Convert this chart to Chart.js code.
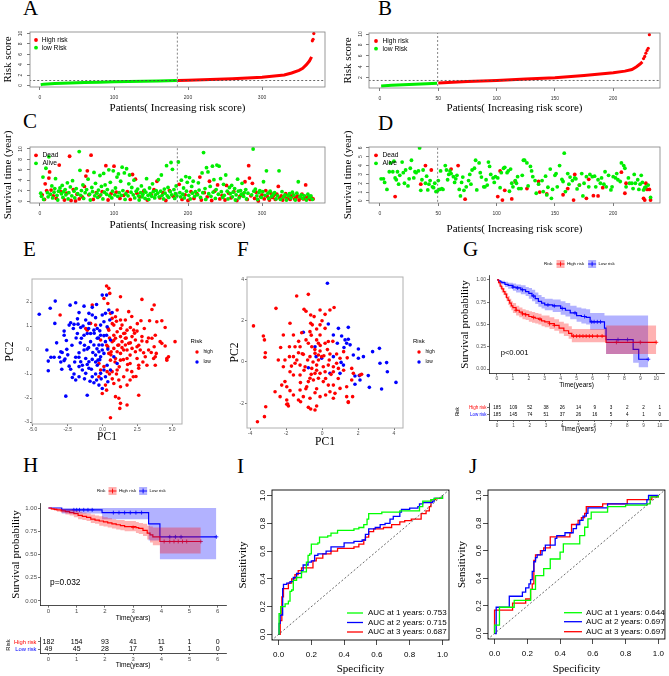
<!DOCTYPE html>
<html><head><meta charset="utf-8">
<script src="https://cdn.jsdelivr.net/npm/chart.js@4.4.1/dist/chart.umd.min.js"></script>
<style>
html,body{margin:0;padding:0;background:#fff}
body{width:669px;height:676px;position:relative;overflow:hidden}
.lt{position:absolute;font-family:'Liberation Serif','Times New Roman',serif;font-size:21px;line-height:1;color:#000}
.pw{position:absolute}
</style></head><body>
<div class="lt" style="left:23px;top:-2px">A</div>
<div class="lt" style="left:378px;top:-2px">B</div>
<div class="lt" style="left:23px;top:111px">C</div>
<div class="lt" style="left:378px;top:113px">D</div>
<div class="lt" style="left:23px;top:239px">E</div>
<div class="lt" style="left:237px;top:239px">F</div>
<div class="lt" style="left:463px;top:239px">G</div>
<div class="lt" style="left:23px;top:455px">H</div>
<div class="lt" style="left:237px;top:456px">I</div>
<div class="lt" style="left:469px;top:456px">J</div>
<script>
const SANS="'Liberation Sans', Arial, Helvetica, sans-serif";
const SERIF="'Liberation Serif', 'Times New Roman', serif";
const RED='#ff0000', GREEN='#00ee00', BLUE='#0000ff';

// ---------- A: risk score (training) ----------
const aLowX=[1,5,10,20,40,60,80,100,120,140,160,185];
const aLowY=[0.15,0.25,0.3,0.38,0.48,0.56,0.63,0.7,0.76,0.82,0.87,0.94];
const aHighX=[186,200,220,240,260,280,300,320,330,340,350,355,360,364,367];
const aHighY=[0.95,1.0,1.08,1.18,1.3,1.42,1.58,1.85,2.0,2.4,2.9,3.3,4.0,4.7,5.5];
const aTopX=[368,369,370];
const aTopY=[8.6,8.9,10.0];
const aCut=185.5, aThr=0.95;
const aXTicks=[0,100,200,300], aYTicks=[0,2,4,6,8,10];

// ---------- B: risk score (test) ----------
const bLowX=[1,10,20,30,40,49];
const bLowY=[0.48,0.6,0.7,0.8,0.9,0.97];
const bHighX=[50,75,100,125,150,175,200,210,216,220,223,225];
const bHighY=[1.0,1.3,1.5,1.75,2.0,2.4,2.9,3.2,3.5,4.0,4.5,4.9];
const bTopX=[226,227,228,229,230,231];
const bTopY=[5.5,5.9,6.5,7.0,7.4,9.9];
const bCut=49.5, bThr=1.5;
const bXTicks=[0,50,100,150,200], bYTicks=[2,4,6,8,10];

// ---------- C: survival status (training) ----------
const cDead=[[3,1.2],[6,0.3],[9,2.0],[12,4.4],[13,5.6],[7,3.3],[15,2.1],[18,1.0],[22,0.5],[26,6.9],[28,1.8],[33,0.2],[36,1.5],[40,8.6],[42,0.1],[45,2.2],[48,0.0],[50,1.3],[53,0.4],[57,0.8],[60,2.8],[62,4.8],[64,5.8],[66,1.2],[69,8.8],[72,0.3],[76,1.6],[80,0.9],[84,1.8],[89,6.8],[92,0.2],[96,1.4],[100,6.7],[103,1.7],[108,0.5],[113,1.1],[118,1.8],[122,0.3],[125,5.1],[129,4.2],[131,1.5],[135,0.8],[140,1.9],[145,0.2],[150,1.3],[154,2.2],[158,3.8],[162,0.6],[166,1.6],[170,0.1],[175,2.0],[180,0.9],[188,3.2],[192,0.3],[196,1.2],[200,0.1],[204,1.8],[208,0.5],[212,1.4],[216,4.6],[218,0.2],[222,1.6],[226,0.8],[229,3.8],[232,0.1],[236,1.9],[240,3.1],[243,0.4],[246,1.1],[250,0.2],[252,3.0],[255,1.5],[258,0.6],[262,1.8],[266,0.1],[270,0.9],[274,1.3],[277,3.7],[280,0.3],[282,6.8],[283,4.4],[285,1.0],[287,3.4],[290,0.5],[292,1.7],[295,0.0],[298,0.8],[300,1.2],[303,0.4],[305,2.0],[307,0.9],[310,0.2],[312,1.5],[314,0.7],[316,1.1],[318,0.3],[320,1.3],[322,2.8],[324,0.6],[326,1.0],[328,0.2],[330,0.8],[332,1.4],[334,0.5],[336,1.1],[338,0.3],[340,0.9],[342,1.2],[344,0.4],[346,0.7],[348,1.0],[350,0.2],[352,0.6],[354,1.3],[356,0.4],[358,0.9],[359,3.1],[361,0.5],[363,0.8],[365,0.3],[367,0.6],[369,0.4]];
const cAlive=[[1,1.5],[2,0.9],[4,4.6],[5,0.3],[8,6.3],[10,1.6],[11,0.8],[12,8.5],[14,1.3],[16,2.9],[17,0.6],[19,1.7],[20,2.4],[21,4.3],[23,1.1],[24,0.2],[25,1.9],[27,2.5],[29,1.4],[30,3.0],[31,0.7],[32,1.8],[34,2.2],[35,1.2],[37,3.5],[38,0.4],[39,1.6],[41,2.7],[43,1.0],[44,3.9],[46,1.9],[47,0.6],[49,2.4],[51,1.4],[53,9.5],[54,5.9],[55,1.1],[56,2.0],[58,3.1],[59,0.5],[61,1.6],[63,2.2],[65,4.2],[67,1.3],[68,0.2],[70,2.6],[71,1.8],[73,5.5],[74,1.0],[75,3.4],[77,1.5],[78,0.7],[79,2.1],[81,4.9],[82,1.2],[83,2.8],[85,0.4],[86,5.3],[87,1.7],[88,3.1],[90,1.3],[91,2.2],[93,6.0],[94,1.0],[95,3.6],[97,0.6],[98,1.9],[99,5.8],[101,1.2],[102,2.5],[104,4.6],[105,0.9],[106,5.2],[107,1.6],[109,3.8],[110,1.1],[111,6.5],[112,2.0],[114,5.4],[115,0.3],[116,1.4],[117,6.2],[119,1.0],[120,3.3],[121,5.0],[123,1.7],[124,2.6],[126,1.2],[127,4.0],[128,0.6],[130,1.9],[132,2.3],[133,1.0],[134,0.2],[136,1.6],[137,2.9],[138,0.8],[139,1.3],[141,2.1],[142,0.5],[143,1.7],[144,4.3],[146,1.1],[147,0.3],[148,2.5],[149,1.4],[151,0.9],[152,3.3],[153,1.8],[155,0.6],[156,1.2],[157,2.0],[159,1.5],[160,4.1],[161,0.8],[163,1.9],[164,5.0],[165,1.1],[167,0.4],[168,2.3],[169,1.5],[171,6.8],[172,1.0],[173,2.6],[174,0.7],[176,1.8],[177,7.4],[178,1.2],[179,6.1],[181,2.2],[182,0.5],[183,1.4],[184,2.9],[185,1.0],[187,7.5],[189,1.6],[190,0.8],[191,4.0],[193,1.3],[194,2.5],[195,0.6],[197,4.7],[198,1.9],[199,3.6],[201,1.1],[202,4.5],[203,0.4],[205,2.8],[206,1.5],[207,3.8],[209,0.9],[210,1.8],[213,1.2],[214,3.5],[215,2.1],[217,0.7],[219,5.4],[220,1.6],[221,9.3],[223,2.4],[224,0.3],[225,6.4],[227,5.6],[228,1.4],[230,2.8],[231,0.9],[233,6.7],[234,1.7],[235,4.1],[237,0.5],[238,2.2],[239,6.9],[241,1.3],[242,6.7],[244,4.3],[245,1.8],[247,0.7],[248,3.2],[249,1.1],[251,5.0],[253,1.9],[254,0.4],[256,2.6],[257,1.4],[259,3.0],[260,0.8],[261,1.7],[263,2.4],[264,0.2],[265,1.2],[267,4.2],[268,1.9],[269,0.6],[271,2.0],[272,1.3],[273,3.4],[275,0.9],[276,1.6],[278,2.2],[279,0.4],[281,1.5],[286,1.2],[288,10.0],[289,1.9],[291,2.3],[293,1.0],[294,0.3],[296,1.6],[297,2.0],[299,0.7],[301,1.8],[302,3.7],[304,1.1],[306,5.8],[308,1.5],[309,0.5],[311,1.9],[313,0.9],[315,1.3],[317,1.6],[319,0.4],[321,1.0],[323,5.8],[325,0.3],[327,1.8],[329,0.8],[331,1.2],[333,0.2],[335,1.0],[337,1.4],[339,0.6],[341,1.7],[343,1.1],[345,0.2],[347,1.5],[349,3.7],[351,0.8],[353,1.2],[355,0.5],[357,1.0],[360,0.2],[362,1.3],[364,0.7],[366,1.0],[368,0.3]];
const cYTicks=[0,2,4,6,8,10];

// ---------- D: survival status (test) ----------
const dDead=[[13,0.5],[35,1.9],[39,4.0],[44,3.5],[61,3.6],[67,4.0],[73,0.2],[101,0.5],[103,3.4],[105,0.1],[107,1.2],[113,0.23],[116,2.2],[126,1.4],[136,2.2],[137,1.0],[143,0.8],[157,0.7],[161,1.4],[166,0.1],[167,3.0],[171,1.8],[177,0.3],[179,2.45],[183,0.6],[187,0.57],[191,1.5],[207,3.25],[210,0.87],[211,2.0],[226,0.3],[227,0.1],[228,2.0],[229,1.3],[231,1.3],[232,0.1]];
const dAlive=[[1,2.5],[3,2.5],[4,2.1],[6,1.3],[8,3.3],[9,4.3],[11,3.3],[12,4.5],[13,2.6],[14,2.4],[15,3.3],[16,1.9],[17,2.9],[19,4.4],[20,3.2],[21,2.0],[22,3.5],[24,1.7],[25,2.5],[26,3.7],[27,4.6],[29,2.6],[30,3.3],[31,3.2],[33,3.4],[34,6.0],[35,1.2],[36,2.4],[37,3.5],[39,2.0],[40,2.8],[41,1.25],[42,1.9],[43,2.3],[45,1.6],[46,1.5],[47,2.0],[48,1.06],[49,1.1],[50,2.3],[51,1.3],[52,3.4],[53,1.4],[54,1.3],[56,4.0],[57,3.5],[58,2.4],[59,3.0],[60,3.4],[61,3.1],[63,2.75],[64,2.1],[65,2.5],[66,2.9],[68,1.3],[69,0.57],[70,2.1],[71,2.7],[72,1.2],[74,1.6],[76,2.3],[77,3.0],[78,1.9],[79,3.5],[81,3.7],[82,4.6],[83,1.25],[85,4.3],[86,3.2],[87,2.7],[89,1.6],[90,1.6],[91,2.4],[92,1.8],[93,4.4],[94,3.9],[95,3.0],[97,2.6],[98,2.1],[99,2.75],[101,2.6],[103,1.5],[104,3.2],[106,3.7],[107,3.8],[109,3.2],[110,3.4],[111,1.1],[112,3.6],[113,2.0],[114,1.6],[116,2.3],[117,2.0],[118,2.75],[119,1.4],[121,1.4],[122,2.9],[123,4.6],[124,4.6],[126,4.3],[127,1.7],[129,3.9],[130,3.4],[131,2.75],[133,2.3],[134,0.87],[136,1.9],[139,2.3],[140,1.06],[142,2.8],[143,0.68],[144,1.55],[146,3.6],[147,0.3],[148,1.3],[150,2.9],[151,3.1],[152,1.6],[154,4.0],[156,2.45],[157,2.2],[158,5.4],[159,1.06],[161,3.1],[162,1.9],[163,2.7],[165,2.3],[167,2.6],[168,2.5],[169,1.36],[171,1.8],[173,3.1],[174,0.57],[175,2.0],[177,2.75],[179,1.6],[180,3.0],[182,2.75],[184,2.8],[185,1.6],[187,2.4],[189,2.0],[190,2.6],[192,1.9],[193,3.3],[194,1.6],[196,2.9],[198,1.25],[199,1.6],[200,2.75],[202,2.6],[203,3.1],[204,2.4],[206,2.2],[207,4.3],[209,4.0],[210,3.7],[211,1.6],[213,2.6],[214,2.0],[216,2.0],[217,1.4],[218,3.0],[219,2.0],[221,2.4],[222,1.3],[223,1.9],[224,2.9],[225,2.1],[226,1.25],[227,1.5],[228,1.6],[230,1.8],[232,0.4]];
const dYTicks=[0,1,2,3,4,5,6];

// ---------- E: PCA (training) ----------
const eHigh=[[0.29,2.67],[0.45,2.57],[0.52,2.36],[0.1,2.15],[1.29,2.22],[0.38,1.94],[-0.74,1.88],[-3.05,1.46],[0.57,1.53],[1.29,1.25],[1.88,1.6],[2.83,2.11],[3.55,1.69],[3.71,1.88],[3.38,1.22],[3.9,1.18],[4.26,1.22],[4.5,0.94],[5.21,0.35],[4.14,0.35],[3.79,-0.28],[3.67,-0.35],[3.86,-0.14],[3.79,-0.63],[3.19,0.35],[2.83,0.56],[2.83,0.38],[2.76,1.22],[2.48,0.79],[2.36,0.42],[2.24,0.83],[2.12,0.56],[1.76,0.83],[1.52,0.69],[1.29,0.56],[1.05,0.76],[0.93,0.49],[0.81,0.62],[0.69,0.35],[1.17,0.21],[1.4,0.35],[1.64,0.21],[1.88,0.28],[2.12,0.07],[2.36,-0.07],[2.48,-0.35],[2.6,-0.63],[2.6,-0.76],[3.19,-0.63],[1.52,0],[1.29,-0.14],[1.05,-0.07],[0.81,0.07],[0.45,-0.14],[0.57,-0.42],[0.93,-0.35],[1.29,-0.42],[1.76,-0.35],[1.98,-0.56],[1.76,-0.83],[1.52,-1.11],[1.17,-1.25],[0.81,-1.39],[1.29,-1.53],[1.76,-1.46],[1.98,-1.25],[2.21,-1.11],[0.21,-1.46],[0.29,-1.67],[-0.02,-1.81],[0.93,-1.94],[1.17,-2.01],[1.29,-2.22],[1.76,-2.29],[1.24,-2.43],[0.57,-2.82],[2.6,-1.88],[-0.14,-0.83],[-0.26,-1.11],[-0.26,-0.56],[0.1,-0.69],[0.33,-0.9],[0.69,-0.9],[1.05,-0.83],[0.38,0.14],[0.62,-0.07],[1.76,0],[1.98,-0.21],[1.64,0.49],[1.4,1.04],[1.64,1.25],[2.0,0.94],[1.05,1.67],[0.93,1.39],[0.69,1.32],[-0.14,0.42],[-0.5,1.04],[-0.86,1.11],[-1.1,0.83],[-1.21,0.9],[0.45,0.83],[0.81,1.04],[2.48,0.14],[2.71,0],[2.95,-0.11],[3.07,-0.28],[3.31,0],[3.55,0.49],[3.79,0.62],[4.26,0.28],[3.71,0.14],[4.5,0.17],[4.62,-0.35],[4.74,-0.28],[4.62,-0.42],[0.8,0.4],[1.1,0.2],[1.4,0.1],[1.7,0.5],[2.0,0.3],[2.3,0.7],[2.6,0.2],[0.6,-0.2],[0.9,-0.5],[1.2,-0.7],[1.5,-0.4],[1.8,-0.6],[2.1,-0.9],[2.4,-1.1],[0.5,-1.0],[0.7,-1.2],[1.0,-1.0],[0.4,0.9],[0.7,1.1],[1.0,1.2],[1.3,0.9],[1.6,0.7],[2.1,1.4],[2.5,1.1],[3.0,0.9],[3.3,0.5],[3.5,-0.1],[2.9,-0.5],[0.3,0.2],[0.5,0.5]];
const eLow=[[-4.55,1.49],[-3.76,1.74],[-3.4,2.04],[-3.43,1.11],[-4.0,0],[-3.9,-0.46],[-3.9,-0.86],[-3.71,-0.3],[-3.48,-0.3],[-3.1,-0.3],[-3.0,-0.07],[-2.76,-0.44],[-2.93,-0.8],[-2.7,-0.37],[-2.57,0.03],[-2.4,-0.67],[-2.29,-0.8],[-2.17,-1.14],[-2.05,-1.0],[-2.64,-1.92],[-2.33,1.87],[-1.93,1.97],[-1.69,1.56],[-1.33,1.83],[-0.98,1.53],[-0.74,1.78],[-0.43,1.9],[-2.76,0.79],[-2.76,0.62],[-2.29,1.14],[-2.4,1.04],[-2.05,1.07],[-1.76,1.08],[-1.57,0.94],[-1.81,0.69],[-1.52,0.49],[-1.33,0.62],[-1.1,0.69],[-1.21,1.25],[-0.98,1.11],[-0.74,1.46],[-0.5,1.35],[-0.14,1.04],[0.1,1.18],[-0.02,1.46],[0.21,1.53],[-0.02,2.29],[0.29,2.29],[-0.14,0.62],[-0.38,0.49],[-0.62,0.21],[-0.86,0.35],[-1.1,0.04],[-1.33,0],[-1.69,-0.11],[-1.93,-0.3],[-1.57,-0.49],[-1.21,-0.35],[-0.98,-0.49],[-0.74,-0.39],[-0.5,-0.21],[-0.26,-0.07],[-0.14,-0.28],[-0.02,0.21],[0.21,0.35],[0.38,0.04],[0.57,0.42],[-1.69,-0.69],[-1.45,-0.83],[-1.21,-0.97],[-0.98,-0.76],[-0.74,-1.11],[-0.62,-1.36],[-0.43,-1.25],[-0.26,-1.46],[-0.14,-0.97],[0.1,-0.83],[0.21,-1.11],[0.38,-1.32],[-0.02,-1.6],[-1.1,-1.88],[-1.93,-1.25],[-1.69,-1.11],[-1.45,-0.63],[-0.38,-0.63],[-0.33,-0.42],[0.33,-0.63],[0.57,-0.83],[-0.38,0.9],[-0.62,0.83],[-0.86,0.69],[0.33,0.97],[0.52,1.25],[0.45,1.67],[0.69,1.56],[0.29,0.62],[0.81,-0.28],[1.05,-0.56],[-0.02,0],[0.1,-0.14],[-0.26,0.21],[-3.3,0.3],[-2.9,-0.1],[-2.6,0.4],[-2.2,0.2],[-1.9,0.5],[-1.6,0.3],[-1.3,0.2],[-1.0,0.1],[-0.7,-0.1],[-0.4,0.05],[-2.0,-0.5],[-1.7,-0.3],[-1.1,-0.6],[-0.8,-0.8],[-0.5,-0.5],[-0.2,-0.4],[-2.5,-0.2],[-3.0,-0.5],[-1.4,1.0],[-1.0,0.9],[-0.6,0.7],[-0.3,0.5],[-1.8,1.3],[-2.1,0.9],[-0.9,-1.3],[-0.5,-1.0],[-1.3,-1.2],[-0.1,-1.2],[-0.2,0.8],[0.1,0.6]];
const eXTicks=[-5,-2.5,0,2.5,5], eYTicks=[-3,-2,-1,0,1,2];

// ---------- F: PCA (test) ----------
const fHigh=[[-3.81,1.75],[-3.26,1.26],[-3.2,1.07],[-3.15,0.45],[-3.17,0.23],[-2.56,2.6],[-1.41,3.2],[-0.76,3.28],[-1.0,2.56],[-0.89,2.46],[-0.63,2.28],[-0.44,2.2],[-1.13,1.42],[-0.63,1.88],[-0.54,1.8],[-0.11,2.52],[0.44,2.52],[0.67,2.64],[0.17,2.31],[-1.78,1.88],[-1.59,1.31],[-2.15,1.31],[-1.81,0.74],[-1.5,0.74],[-1.22,0.74],[-0.89,1.07],[-0.76,0.91],[-0.57,0.74],[-0.3,1.07],[-0.2,0.91],[0.17,0.91],[0.35,0.99],[-0.11,0.53],[-0.39,0.42],[-0.67,0.26],[-1.04,0.37],[-1.31,0.45],[-1.59,0.26],[-1.81,0.26],[-2.06,0.1],[-1.5,-0.06],[-1.22,-0.15],[-0.94,-0.23],[-0.57,-0.31],[-0.3,-0.15],[0.07,-0.23],[0.35,-0.15],[0.63,-0.23],[0.81,-0.06],[0.91,-0.31],[0.63,-0.47],[0.17,-0.47],[-0.11,-0.55],[-0.39,-0.55],[-0.67,-0.79],[-0.76,-0.95],[-0.48,-0.87],[-0.2,-0.79],[0.07,-0.95],[0.35,-1.12],[0.63,-1.12],[0.44,-1.44],[0.72,-1.52],[1.0,-1.28],[1.37,-1.2],[1.65,-0.87],[1.74,-0.55],[1.65,-0.31],[2.11,-0.63],[2.2,-0.6],[1.37,-1.68],[1.7,-1.68],[1.46,-1.93],[0.63,-1.76],[-0.11,-1.68],[-0.39,-1.49],[-0.67,-1.76],[-1.04,-1.68],[-1.31,-1.84],[-1.59,-1.6],[-1.78,-1.39],[-1.96,-1.2],[-2.06,-0.95],[-2.24,-1.12],[-2.61,-1.44],[-2.33,-1.68],[-1.96,-1.84],[-1.91,-2.04],[-1.22,-1.36],[-0.85,-1.2],[-1.78,-0.47],[-1.59,-0.63],[-1.22,-0.63],[-0.02,0.26],[0.44,0.39],[0.81,0.39],[1.0,0.18],[0.17,1.63],[-0.11,1.31],[-0.11,1.8],[-0.67,1.47],[-0.2,0.34],[-2.15,-0.23],[-2.43,0.1],[-3.59,-2.9],[-3.2,-2.65],[-3.13,-2.17],[-1.96,-2.05],[-1.87,-2.13],[-1.19,-1.93],[-0.76,-2.2],[-0.63,-2.28],[-0.39,-2.33],[-0.3,-2.13],[1.46,-1.96],[-0.5,0.0],[-0.2,0.1],[0.1,0.3],[0.4,0.1],[-0.8,0.1],[-1.1,0.4],[-0.4,0.6],[-0.1,0.8],[0.3,0.6],[-1.4,0.1],[-1.7,-0.2],[-1.0,-0.4],[-0.6,-0.6],[-0.3,-0.4],[0.2,-0.8],[0.5,-0.6],[0.9,-0.8],[1.2,-0.4],[-1.2,-1.0],[-0.9,-1.3],[-0.3,-1.3],[0.2,-1.6],[-0.6,1.3],[-0.3,1.6],[0.0,2.0],[-1.3,1.0],[0.6,1.0],[1.2,0.5],[1.4,0.2],[-2.3,0.7]];
const fLow=[[0.3,3.82],[-1.04,1.44],[0.35,1.84],[0.63,1.31],[0.91,1.63],[1.46,1.68],[1.09,1.26],[1.28,1.07],[1.37,0.91],[1.46,1.1],[1.56,0.83],[2.02,0.63],[1.74,0.34],[2.02,0.18],[2.3,0.26],[2.81,0.5],[3.19,0.66],[3.59,-0.03],[3.63,-0.47],[4.11,-0.99],[3.31,-1.31],[3.22,-0.06],[2.57,-0.66],[2.07,-0.66],[2.11,-0.87],[1.83,-1.08],[1.06,-0.02],[1.19,-0.15],[0.63,0.26],[0.44,-0.55],[-0.02,0.18],[-0.39,0.74],[1.0,-0.55],[2.63,-1.23],[1.22,0.7],[0.85,0.91],[-0.76,-0.28],[-0.33,0.26],[1.83,-0.68]];
const fXTicks=[-4,-2,0,2,4], fYTicks=[-2,0,2,4];

// ---------- G: KM (training) ----------
const gHighT=[0,0.1,0.2,0.3,0.4,0.5,0.6,0.7,0.8,0.9,1.0,1.2,1.4,1.6,1.8,2.0,2.2,2.4,2.6,2.8,3.0,3.3,3.6,3.9,4.2,4.5,4.7,6.85,10.0];
const gHighS=[1,0.97,0.93,0.9,0.87,0.84,0.8,0.77,0.74,0.71,0.69,0.66,0.64,0.62,0.61,0.59,0.58,0.57,0.56,0.54,0.53,0.51,0.49,0.46,0.43,0.40,0.37,0.30,0.30];
const gHighU=[1,0.99,0.96,0.93,0.91,0.88,0.85,0.82,0.79,0.76,0.74,0.71,0.69,0.67,0.66,0.65,0.64,0.63,0.62,0.6,0.6,0.58,0.56,0.53,0.51,0.48,0.45,0.49,0.49];
const gHighL=[1,0.95,0.9,0.86,0.83,0.8,0.76,0.72,0.69,0.66,0.63,0.6,0.58,0.56,0.55,0.53,0.52,0.51,0.5,0.48,0.47,0.45,0.43,0.40,0.37,0.34,0.30,0.17,0.17];
const gLowT=[0,0.1,0.2,0.3,0.5,0.7,1.0,1.2,1.5,1.8,2.0,2.2,2.4,2.6,2.8,3.0,3.5,4.0,4.3,4.6,5.0,5.3,5.6,5.85,6.75,6.85,8.55,8.9,9.5];
const gLowS=[1,0.99,0.98,0.97,0.95,0.94,0.92,0.91,0.89,0.87,0.85,0.82,0.79,0.76,0.74,0.72,0.71,0.68,0.66,0.63,0.60,0.59,0.58,0.53,0.46,0.33,0.22,0.11,0.11];
const gLowU=[1,1,1,0.99,0.98,0.97,0.96,0.95,0.94,0.92,0.91,0.89,0.86,0.83,0.81,0.79,0.78,0.76,0.74,0.71,0.69,0.68,0.67,0.63,0.6,0.6,0.6,0.6,0.6];
const gLowL=[1,0.98,0.96,0.95,0.92,0.9,0.88,0.86,0.84,0.82,0.79,0.76,0.73,0.7,0.68,0.66,0.64,0.61,0.59,0.56,0.53,0.51,0.5,0.44,0.37,0.17,0.07,0.02,0.02];
const gHighCens=[[1.2,0.66],[1.6,0.62],[1.8,0.61],[2.3,0.58],[2.7,0.56],[3.3,0.51],[3.6,0.49],[4.8,0.37],[5.0,0.37],[5.2,0.37],[5.4,0.37],[5.6,0.37],[5.8,0.37],[6.0,0.37],[6.3,0.37],[6.6,0.37],[7.5,0.30],[9.0,0.30],[10.0,0.30]];
const gLowCens=[[1.0,0.92],[1.3,0.91],[1.6,0.89],[2.3,0.82],[3.2,0.72],[3.6,0.71],[4.1,0.68],[4.9,0.63],[5.5,0.59],[5.95,0.53],[6.1,0.53],[6.3,0.53],[6.5,0.53],[7.6,0.33],[8.2,0.33],[9.5,0.11]];
const gXTicks=[0,1,2,3,4,5,6,7,8,9,10], kmYTicks=[0,0.25,0.5,0.75,1];
const gTimes=[0,1,2,3,4,5,6,7,8,9,10];
const gHighN=[185,109,52,38,26,14,9,3,2,2,1];
const gLowN=[185,145,74,51,37,26,16,5,4,1,0];
const gP='p<0.001';

// ---------- H: KM (test) ----------
const hHighT=[0,0.1,0.2,0.3,0.45,0.6,0.75,0.9,1.05,1.2,1.35,1.5,1.65,1.8,1.95,2.1,2.25,2.4,2.55,2.7,3.1,3.2,3.35,3.5,3.6,3.7,3.95,5.4];
const hHighS=[1,0.99,0.985,0.98,0.97,0.96,0.95,0.94,0.92,0.91,0.9,0.88,0.87,0.86,0.85,0.84,0.83,0.82,0.81,0.8,0.79,0.78,0.76,0.73,0.71,0.69,0.64,0.64];
const hHighU=[1,1,1,0.995,0.99,0.985,0.98,0.97,0.96,0.95,0.94,0.93,0.92,0.91,0.9,0.89,0.88,0.87,0.87,0.86,0.85,0.84,0.83,0.81,0.8,0.79,0.79,0.79];
const hHighL=[1,0.98,0.97,0.96,0.95,0.93,0.92,0.9,0.88,0.87,0.86,0.84,0.83,0.81,0.8,0.79,0.78,0.77,0.76,0.75,0.73,0.72,0.7,0.66,0.63,0.6,0.51,0.51];
const hLowT=[0,0.47,1.9,3.55,3.95,5.95];
const hLowS=[1,0.98,0.95,0.83,0.69,0.69];
const hLowU=[1,1,1,1,1,1];
const hLowL=[1,0.94,0.88,0.65,0.45,0.45];
const hHighCens=[[3.0,0.79],[4.1,0.64],[4.3,0.64],[4.45,0.64],[4.6,0.64],[4.75,0.64],[4.9,0.64],[5.4,0.64]];
const hLowCens=[[0.9,0.98],[1.0,0.98],[1.1,0.98],[1.25,0.98],[1.4,0.98],[1.55,0.98],[2.3,0.95],[2.5,0.95],[2.7,0.95],[2.9,0.95],[3.1,0.95],[3.3,0.95],[4.3,0.69],[4.5,0.69],[4.7,0.69],[5.95,0.69]];
const hXTicks=[0,1,2,3,4,5,6];
const hTimes=[0,1,2,3,4,5,6];
const hHighN=[182,154,93,41,11,1,0];
const hLowN=[49,45,28,17,5,1,0];
const hP='p=0.032';

// ---------- I: ROC (training) ----------
const iGreenX=[0,0.003,0.013,0.03,0.04,0.06,0.07,0.08,0.09,0.11,0.14,0.17,0.18,0.19,0.2,0.24,0.25,0.3,0.32,0.36,0.41,0.46,0.49,0.52,0.54,0.55,0.6,0.63,0.7,0.74,0.84,0.86,0.88,0.93,0.95,1.0];
const iGreenY=[0,0.15,0.2,0.2,0.22,0.24,0.31,0.32,0.39,0.41,0.45,0.52,0.57,0.58,0.65,0.66,0.7,0.71,0.73,0.75,0.75,0.76,0.77,0.79,0.83,0.87,0.87,0.88,0.88,0.89,0.89,0.92,0.96,0.97,0.98,1.0];
const iBlueX=[0,0.003,0.01,0.025,0.03,0.05,0.07,0.09,0.11,0.14,0.15,0.18,0.2,0.22,0.24,0.29,0.32,0.37,0.4,0.46,0.51,0.53,0.55,0.59,0.62,0.65,0.68,0.7,0.74,0.75,0.8,0.85,0.86,0.88,0.94,0.95,1.0];
const iBlueY=[0,0.08,0.14,0.33,0.36,0.37,0.38,0.41,0.44,0.46,0.5,0.52,0.53,0.57,0.58,0.6,0.63,0.63,0.66,0.67,0.68,0.72,0.76,0.77,0.79,0.8,0.83,0.85,0.88,0.9,0.91,0.92,0.94,0.95,0.96,0.98,1.0];
const iRedX=[0,0.01,0.02,0.02,0.03,0.06,0.08,0.1,0.12,0.14,0.19,0.21,0.23,0.27,0.32,0.36,0.46,0.49,0.52,0.53,0.55,0.58,0.64,0.69,0.74,0.77,0.81,0.87,0.9,0.92,0.93,0.96,1.0];
const iRedY=[0,0.1,0.14,0.27,0.33,0.37,0.4,0.43,0.46,0.48,0.48,0.53,0.55,0.58,0.6,0.62,0.63,0.65,0.68,0.7,0.74,0.76,0.77,0.79,0.81,0.82,0.83,0.87,0.89,0.92,0.97,0.98,1.0];
const iLegend=['AUC at 1 years: 0.753','AUC at 2 years: 0.715','AUC at 3 years: 0.687'];

// ---------- J: ROC (test) ----------
const jGreenX=[0,0,0.03,0.03,0.1,0.12,0.21,0.22,0.25,0.25,0.29,0.3,0.33,0.34,0.39,0.4,0.41,0.42,0.51,0.52,0.54,0.55,0.57,0.57,0.59,0.68,0.69,0.8,0.93,0.95,0.95,1.0];
const jGreenY=[0,0.06,0.06,0.19,0.19,0.24,0.24,0.32,0.32,0.42,0.42,0.47,0.47,0.54,0.54,0.59,0.59,0.65,0.65,0.71,0.71,0.77,0.77,0.83,0.88,0.88,0.92,0.93,0.94,0.97,0.99,1.0];
const jBlueX=[0,0.01,0.09,0.09,0.16,0.17,0.19,0.21,0.22,0.23,0.24,0.25,0.26,0.29,0.31,0.35,0.37,0.38,0.43,0.48,0.5,0.52,0.54,0.56,0.57,0.68,0.69,0.8,0.93,0.94,1.0];
const jBlueY=[0,0.19,0.19,0.27,0.27,0.3,0.33,0.36,0.39,0.45,0.52,0.55,0.57,0.6,0.64,0.64,0.69,0.71,0.73,0.76,0.79,0.82,0.85,0.87,0.91,0.91,0.94,0.94,0.97,1.0,1.0];
const jRedX=[0,0,0.1,0.11,0.18,0.19,0.21,0.22,0.23,0.24,0.25,0.28,0.3,0.33,0.34,0.43,0.46,0.47,0.5,0.51,0.53,0.55,0.56,0.65,0.66,0.8,0.81,0.93,0.96,1.0];
const jRedY=[0,0.17,0.17,0.22,0.22,0.25,0.25,0.32,0.36,0.53,0.57,0.6,0.62,0.62,0.7,0.7,0.73,0.79,0.79,0.82,0.84,0.87,0.92,0.92,0.94,0.94,0.97,0.97,0.99,1.0];
const jLegend=['AUC at 1 years: 0.644','AUC at 2 years: 0.697','AUC at 3 years: 0.697'];
const rocTicks=[0,0.2,0.4,0.6,0.8,1.0];
const diag=[-0.1,1.1];

// ================= helpers =================
function P(xs,ys){return xs.map(function(x,i){return {x:x,y:ys[i]};});}
function PP(a){return a.map(function(p){return {x:p[0],y:p[1]};});}
function scale(min,max,ticks,o){
  o=o||{};
  return {type:'linear',min:min,max:max,
    afterBuildTicks:function(s){s.ticks=ticks.map(function(v){return {value:v};});},
    grid:{display:true,drawOnChartArea:false,drawTicks:true,tickLength:(o.tl!=null?o.tl:3),color:o.gc||'#444',lineWidth:o.lw||0.7},
    border:{display:!!o.border,color:o.bc||'#000',width:o.bw||0.8},
    ticks:{display:!o.noTicks,autoSkip:false,maxRotation:0,minRotation:0,padding:(o.pad!=null?o.pad:2),color:o.tc||'#333',font:{family:SANS,size:o.fs||5},callback:o.fmt||function(v){return String(v);}},
    title:o.title?{display:true,text:o.title,color:'#000',font:{family:o.tf||SERIF,size:o.tfs||10.5},padding:{top:o.tp||0,bottom:o.tp||0}}:{display:false}
  };
}
function mk(rect,box,yW,xH,cfg,extra){
  const d=document.createElement('div');
  d.className='pw';
  d.style.left=rect.x+'px';d.style.top=rect.y+'px';d.style.width=rect.w+'px';d.style.height=rect.h+'px';
  const c=document.createElement('canvas');d.appendChild(c);document.body.appendChild(d);
  const o=cfg.options=cfg.options||{};
  o.responsive=true;o.maintainAspectRatio=false;o.animation=false;o.events=[];
  o.layout={padding:{left:box.l-rect.x-yW,top:box.t-rect.y,right:rect.x+rect.w-box.r,bottom:rect.y+rect.h-box.b-xH}};
  o.plugins=Object.assign({legend:{display:false},tooltip:{enabled:false}},o.plugins||{});
  o.scales.x.afterFit=function(s){s.height=xH;};
  o.scales.y.afterFit=function(s){s.width=yW;};
  cfg.plugins=cfg.plugins||[];
  if(extra){cfg.plugins.push({id:'ex',afterDraw:function(ch){
    const ctx=ch.ctx;ctx.save();ctx.translate(-rect.x,-rect.y);
    const X=function(v){return ch.scales.x.getPixelForValue(v)+rect.x;};
    const Y=function(v){return ch.scales.y.getPixelForValue(v)+rect.y;};
    const A={l:ch.chartArea.left+rect.x,t:ch.chartArea.top+rect.y,r:ch.chartArea.right+rect.x,b:ch.chartArea.bottom+rect.y};
    extra(ctx,X,Y,A);ctx.restore();}});}
  return new Chart(c,cfg);
}
function frame(ctx,A,color,lw){ctx.strokeStyle=color;ctx.lineWidth=lw;ctx.strokeRect(A.l,A.t,A.r-A.l,A.b-A.t);}
function rotY(ctx,Y,vals,fmt,xc,fs,color){
  ctx.font=fs+'px '+SANS;ctx.fillStyle=color||'#333';ctx.textAlign='center';ctx.textBaseline='middle';
  vals.forEach(function(v){ctx.save();ctx.translate(xc,Y(v));ctx.rotate(-Math.PI/2);ctx.fillText(fmt(v),0,0);ctx.restore();});
}
function dotLeg(ctx,items,x,y0,dy,fs,r,tx){
  ctx.font=fs+'px '+SANS;ctx.textBaseline='middle';ctx.textAlign='left';
  items.forEach(function(it,i){const y=y0+i*dy;ctx.fillStyle=it[1];ctx.beginPath();ctx.arc(x,y,r,0,Math.PI*2);ctx.fill();ctx.fillStyle='#000';ctx.fillText(it[0],x+tx,y);});
}
function line(data,color,w,o){return Object.assign({data:data,showLine:true,borderColor:color,borderWidth:w,pointRadius:0,fill:false},o||{});}
function dots(data,color,r){return {data:data,showLine:false,pointRadius:r,backgroundColor:color,borderWidth:0,pointHoverRadius:r};}

// ================= A =================
mk({x:0,y:20,w:335,h:96},{l:30,t:32,r:325,b:87},30,29,{type:'scatter',data:{datasets:[
  line(P([aCut,aCut],[-1,11]),'#666',0.8,{borderDash:[2,2]}),
  line(P([-20,400],[aThr,aThr]),'#444',0.8,{borderDash:[2,2]}),
  line(P(aLowX,aLowY),GREEN,3),
  line(P(aHighX,aHighY),RED,3),
  dots(P(aTopX,aTopY),RED,1.6)
]},options:{scales:{
  x:scale(-13.5,385.1,aXTicks,{pad:5,title:'Patients( Increasing risk score)',tfs:11,tp:1.5}),
  y:scale(-0.3,10.3,aYTicks,{noTicks:true,title:'Risk score',tfs:11,tp:2})
}}},function(ctx,X,Y,A){
  frame(ctx,A,'#808080',0.8);
  rotY(ctx,Y,aYTicks,String,21,5);
  dotLeg(ctx,[['High risk',RED],['low Risk',GREEN]],36,40,7.7,6.7,1.9,5.7);
});

// ================= B =================
mk({x:335,y:20,w:334,h:96},{l:369,t:33,r:660,b:88},34,28,{type:'scatter',data:{datasets:[
  line(P([bCut,bCut],[-1,11]),'#666',0.8,{borderDash:[2,2]}),
  line(P([-20,260],[bThr,bThr]),'#444',0.8,{borderDash:[2,2]}),
  line(P(bLowX,bLowY),GREEN,3),
  line(P(bHighX,bHighY),RED,3),
  dots(P(bTopX,bTopY),RED,1.6)
]},options:{scales:{
  x:scale(-9.4,240.1,bXTicks,{pad:5,title:'Patients( Increasing risk score)',tfs:11,tp:1.2}),
  y:scale(0.1,10.2,bYTicks,{noTicks:true,title:'Risk score',tfs:11,tp:7})
}}},function(ctx,X,Y,A){
  frame(ctx,A,'#808080',0.8);
  rotY(ctx,Y,bYTicks,String,360.5,5);
  dotLeg(ctx,[['High risk',RED],['low Risk',GREEN]],376,41,7.7,6.7,1.9,6.5);
});

// ================= C =================
mk({x:0,y:118,w:335,h:114},{l:30,t:147,r:325,b:203},30,29,{type:'scatter',data:{datasets:[
  line(P([aCut,aCut],[-1,11]),'#666',0.8,{borderDash:[2,2]}),
  dots(PP(cAlive),GREEN,1.9),
  dots(PP(cDead),RED,1.9)
]},options:{scales:{
  x:scale(-13.5,385.1,aXTicks,{pad:5,title:'Patients( Increasing risk score)',tfs:11,tp:0}),
  y:scale(-0.38,10.38,cYTicks,{noTicks:true,title:'Survival time (year)',tfs:11,tp:2})
}}},function(ctx,X,Y,A){
  frame(ctx,A,'#808080',0.8);
  rotY(ctx,Y,cYTicks,String,21,5);
  dotLeg(ctx,[['Dead',RED],['Alive',GREEN]],36,155.3,8,6.7,1.9,6.5);
});

// ================= D =================
mk({x:335,y:118,w:334,h:118},{l:369,t:147,r:660,b:203},34,33,{type:'scatter',data:{datasets:[
  line(P([bCut,bCut],[-1,11]),'#666',0.8,{borderDash:[2,2]}),
  dots(PP(dAlive),GREEN,1.9),
  dots(PP(dDead),RED,1.9)
]},options:{scales:{
  x:scale(-9.4,240.1,bXTicks,{pad:5,title:'Patients( Increasing risk score)',tfs:11,tp:0}),
  y:scale(-0.23,6.1,dYTicks,{noTicks:true,title:'Survival time (year)',tfs:11,tp:7})
}}},function(ctx,X,Y,A){
  frame(ctx,A,'#808080',0.8);
  rotY(ctx,Y,dYTicks,String,360.5,5);
  dotLeg(ctx,[['Dead',RED],['Alive',GREEN]],376,155.3,8,6.7,1.9,6.5);
});

// ================= E =================
const fmt1=function(v){return v.toFixed(1);};
mk({x:0,y:265,w:240,h:180},{l:32,t:279,r:182,b:424},32,21,{type:'scatter',data:{datasets:[
  dots(PP(eLow),BLUE,1.8),
  dots(PP(eHigh),RED,1.8)
]},options:{scales:{
  x:scale(-5.07,5.71,eXTicks,{tl:2,pad:0.5,fs:5,tc:'#4d4d4d',gc:'#333',fmt:fmt1,title:'PC1',tfs:11.5,tp:1}),
  y:scale(-3.08,2.96,eYTicks,{tl:2,pad:1,fs:5,tc:'#4d4d4d',gc:'#333',title:'PC2',tfs:11.5,tp:3})
}}},function(ctx,X,Y,A){
  frame(ctx,A,'#b0b0b0',1);
  ctx.font='6px '+SANS;ctx.fillStyle='#000';ctx.textAlign='left';ctx.textBaseline='middle';
  ctx.fillText('Risk',190.5,341);
  dotLeg(ctx,[['high',RED],['low',BLUE]],197,352,10,4.9,1.7,6.5);
});

// ================= F =================
mk({x:226,y:265,w:214,h:185},{l:247,t:277,r:403,b:428},21,22,{type:'scatter',data:{datasets:[
  dots(PP(fHigh),RED,1.8),
  dots(PP(fLow),BLUE,1.8)
]},options:{scales:{
  x:scale(-4.17,4.5,fXTicks,{tl:2,pad:0.5,fs:5,tc:'#4d4d4d',gc:'#333',title:'PC1',tfs:11.5,tp:1}),
  y:scale(-3.2,4.12,fYTicks,{tl:2,pad:1,fs:5,tc:'#4d4d4d',gc:'#333',title:'PC2',tfs:11.5,tp:2})
}}},function(ctx,X,Y,A){
  frame(ctx,A,'#b0b0b0',1);
  ctx.font='6px '+SANS;ctx.fillStyle='#000';ctx.textAlign='left';ctx.textBaseline='middle';
  ctx.fillText('Risk',413,341);
  dotLeg(ctx,[['high',RED],['low',BLUE]],419,352,10,4.9,1.7,6.5);
});

// ================= KM helpers =================
const RBAND='rgba(255,0,0,0.3)', BBAND='rgba(0,0,255,0.3)';
function kmSets(hT,hS,hU,hL,lT,lS,lU,lL,hC,lC){
  return [
    line(P(hT,hU),'transparent',0,{stepped:true,fill:'+1',backgroundColor:RBAND}),
    line(P(hT,hL),'transparent',0,{stepped:true}),
    line(P(lT,lU),'transparent',0,{stepped:true,fill:'+1',backgroundColor:BBAND}),
    line(P(lT,lL),'transparent',0,{stepped:true}),
    line(P(hT,hS),RED,1.2,{stepped:true}),
    line(P(lT,lS),BLUE,1.2,{stepped:true}),
    {data:PP(hC),showLine:false,pointStyle:'cross',pointRadius:2,borderColor:RED,borderWidth:0.8},
    {data:PP(lC),showLine:false,pointStyle:'cross',pointRadius:2,borderColor:BLUE,borderWidth:0.8}
  ];
}
function kmLegend(ctx,x,y,fs,sw,gap){
  ctx.font=fs+'px '+SANS;ctx.textBaseline='middle';ctx.textAlign='left';ctx.fillStyle='#000';
  ctx.fillText('Risk',x,y);
  let cx=x+ctx.measureText('Risk').width+gap;
  [['High risk',RED,RBAND],['Low risk',BLUE,BBAND]].forEach(function(it){
    ctx.fillStyle=it[2];ctx.fillRect(cx,y-sw/2,sw,sw);
    ctx.strokeStyle=it[1];ctx.lineWidth=0.9;ctx.beginPath();ctx.moveTo(cx,y);ctx.lineTo(cx+sw,y);
    ctx.moveTo(cx+sw/2,y-sw*0.3);ctx.lineTo(cx+sw/2,y+sw*0.3);ctx.stroke();
    ctx.fillStyle='#000';ctx.fillText(it[0],cx+sw+2.5,y);
    cx+=sw+2.5+ctx.measureText(it[0]).width+gap;
  });
}
const fmt2=function(v){return v.toFixed(2);};

// ================= G =================
mk({x:455,y:255,w:214,h:140},{l:489,t:275.5,r:668,b:373.5},34,21.5,{type:'scatter',data:{datasets:
  kmSets(gHighT,gHighS,gHighU,gHighL,gLowT,gLowS,gLowU,gLowL,gHighCens,gLowCens)
},options:{scales:{
  x:scale(-0.5,10.5,gXTicks,{tl:2,pad:0.5,fs:5,tc:'#4d4d4d',gc:'#333',border:true,bw:0.7,title:'Time(years)',tf:SANS,tfs:6.6,tp:6}),
  y:scale(-0.05,1.05,kmYTicks,{tl:2,pad:1,fs:5,tc:'#4d4d4d',gc:'#333',border:true,bw:0.7,fmt:fmt2,title:'Survival probability',tfs:11,tp:3.4})
}}},function(ctx,X,Y,A){
  kmLegend(ctx,544,264,4.4,8,4);
  ctx.font='7.6px '+SANS;ctx.fillStyle='#000';ctx.textAlign='left';ctx.textBaseline='middle';
  ctx.fillText(gP,500.7,353);
});
// G risk table
mk({x:440,y:398,w:229,h:40},{l:489,t:403,r:668,b:420},49,18,{type:'scatter',data:{datasets:[]},options:{scales:{
  x:scale(-0.5,10.5,gXTicks,{tl:2,pad:0.5,fs:4.6,tc:'#4d4d4d',gc:'#333',border:true,bw:0.7,title:'Time(years)',tf:SANS,tfs:6.6,tp:4.75}),
  y:scale(-0.864,1.71,[0,1],{tl:2,pad:0.5,fs:4.5,gc:'#333',border:true,bw:0.7,tc:function(c){return c.tick&&c.tick.value===1?RED:BLUE;},fmt:function(v){return v===1?'High risk':'Low risk';},title:'Risk',tf:SANS,tfs:4.5,tp:15.3})
}}},function(ctx,X,Y,A){
  ctx.font='4.6px '+SANS;ctx.fillStyle='#000';ctx.textAlign='center';ctx.textBaseline='middle';
  gTimes.forEach(function(t,i){ctx.fillText(String(gHighN[i]),X(t),Y(1));ctx.fillText(String(gLowN[i]),X(t),Y(0));});
});

// ================= H =================
mk({x:0,y:480,w:235,h:145},{l:40,t:503.35,r:226.2,b:605.65},40,19.35,{type:'scatter',data:{datasets:
  kmSets(hHighT,hHighS,hHighU,hHighL,hLowT,hLowS,hLowU,hLowL,hHighCens,hLowCens)
},options:{scales:{
  x:scale(-0.3,6.3,hXTicks,{tl:2,pad:0.5,fs:6,tc:'#4d4d4d',gc:'#333',border:true,bw:0.7,title:'Time(years)',tf:SANS,tfs:6.6,tp:3}),
  y:scale(-0.05,1.05,kmYTicks,{tl:2,pad:1,fs:6,tc:'#4d4d4d',gc:'#333',border:true,bw:0.7,fmt:fmt2,title:'Survival probability',tfs:11,tp:10})
}}},function(ctx,X,Y,A){
  kmLegend(ctx,97,491,4.4,8,3);
  ctx.font='8.4px '+SANS;ctx.fillStyle='#000';ctx.textAlign='left';ctx.textBaseline='middle';
  ctx.fillText(hP,50,583);
});
// H risk table
mk({x:0,y:632,w:235,h:40},{l:40,t:637,r:226.2,b:653},40,19,{type:'scatter',data:{datasets:[]},options:{scales:{
  x:scale(-0.3,6.3,hXTicks,{tl:2,pad:0.5,fs:5.8,tc:'#4d4d4d',gc:'#333',border:true,bw:0.7,title:'Time(years)',tf:SANS,tfs:6.6,tp:3}),
  y:scale(-0.571,1.714,[0,1],{tl:2,pad:1.5,fs:5.8,gc:'#333',border:true,bw:0.7,tc:function(c){return c.tick&&c.tick.value===1?RED:BLUE;},fmt:function(v){return v===1?'High risk':'Low risk';},title:'Risk',tf:SANS,tfs:5.8,tp:4.5})
}}},function(ctx,X,Y,A){
  ctx.font='7px '+SANS;ctx.fillStyle='#000';ctx.textAlign='center';ctx.textBaseline='middle';
  hTimes.forEach(function(t,i){ctx.fillText(String(hHighN[i]),X(t),Y(1));ctx.fillText(String(hLowN[i]),X(t),Y(0));});
});

// ================= ROC helpers =================
function rocSets(gx,gy,bx,by,rx,ry){
  return [
    line(P(diag,diag),'#444',0.8,{borderDash:[2,2]}),
    line(P(gx,gy),'#00ff00',1.3,{stepped:true}),
    line(P(bx,by),BLUE,1.3,{stepped:true}),
    line(P(rx,ry),RED,1.3,{stepped:true})
  ];
}
function rocLegend(ctx,labels,x1,x2,tx,ys){
  const cols=['#00ff00',BLUE,RED];
  ctx.font='8px '+SANS;ctx.textAlign='left';ctx.textBaseline='middle';
  labels.forEach(function(l,i){ctx.strokeStyle=cols[i];ctx.lineWidth=1.3;ctx.beginPath();ctx.moveTo(x1,ys[i]);ctx.lineTo(x2,ys[i]);ctx.stroke();ctx.fillStyle='#000';ctx.fillText(l,tx,ys[i]);});
}

// ================= I =================
mk({x:236,y:480,w:220,h:196},{l:272,t:490,r:449,b:640},36,36,{type:'scatter',data:{datasets:
  rocSets(iGreenX,iGreenY,iBlueX,iBlueY,iRedX,iRedY)
},options:{scales:{
  x:scale(-0.04,1.04,rocTicks,{tl:5,pad:5,fs:8,tc:'#000',gc:'#000',fmt:fmt1,title:'Specificity',tfs:11,tp:0}),
  y:scale(-0.04,1.04,rocTicks,{tl:5,gc:'#000',noTicks:true,title:'Sensitivity',tfs:11,tp:0.4})
}}},function(ctx,X,Y,A){
  frame(ctx,A,'#000',0.9);
  rotY(ctx,Y,rocTicks,fmt1,262.5,8,'#000');
  rocLegend(ctx,iLegend,347,363,368,[613,622.5,632]);
});

// ================= J =================
mk({x:452,y:480,w:217,h:196},{l:488,t:490,r:667,b:639},36,37,{type:'scatter',data:{datasets:
  rocSets(jGreenX,jGreenY,jBlueX,jBlueY,jRedX,jRedY)
},options:{scales:{
  x:scale(-0.04,1.04,rocTicks,{tl:5,pad:5,fs:8,tc:'#000',gc:'#000',fmt:fmt1,title:'Specificity',tfs:11,tp:0}),
  y:scale(-0.04,1.04,rocTicks,{tl:5,gc:'#000',noTicks:true,title:'Sensitivity',tfs:11,tp:3.4})
}}},function(ctx,X,Y,A){
  frame(ctx,A,'#000',0.9);
  rotY(ctx,Y,rocTicks,fmt1,478.5,8,'#000');
  rocLegend(ctx,jLegend,564,582,586,[612.7,621.7,631.7]);
});
</script></body></html>
